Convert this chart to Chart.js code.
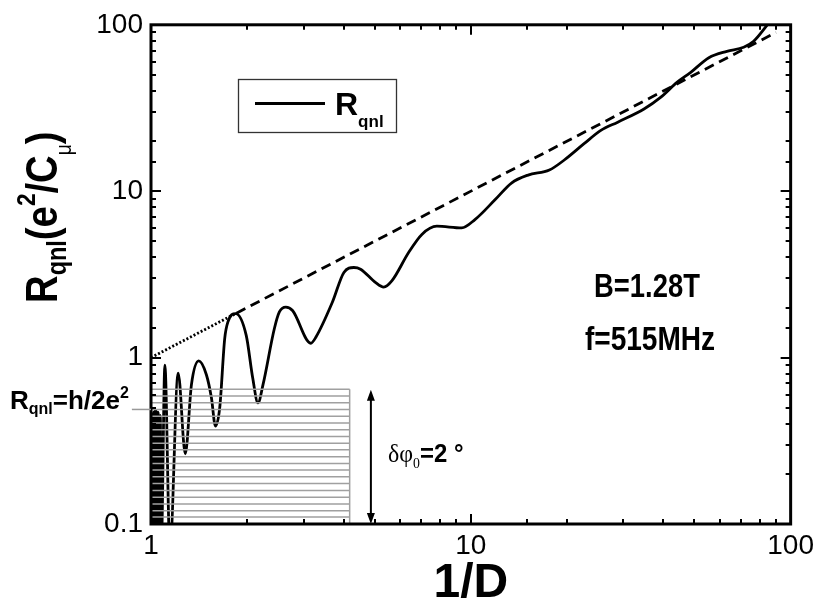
<!DOCTYPE html>
<html>
<head>
<meta charset="utf-8">
<script src="https://cdn.jsdelivr.net/npm/chart.js@4.4.1/dist/chart.umd.min.js"></script>
<style>
  body { margin: 0; background: #fff; overflow: hidden; }
  canvas { display: block; }
</style>
</head>
<body>
<canvas id="c" width="819" height="607"></canvas>
<script>
// R_qnl vs 1/D
var invD = [1.001,1.005,1.009,1.013,1.017,1.022,1.027,1.033,1.039,1.046,1.053,1.061,1.069,1.078,
  1.105,1.146,1.216,1.28,1.338,1.41,1.49,1.545,1.59,1.64,1.70,1.74,1.84,1.985,2.08,2.16,2.24,
  2.43,2.52,2.64,2.77,3.16,3.28,3.69,4.01,4.31,4.52,5.03,5.34,5.67,6.39,7.03,7.83,9.36,10.3,
  11.9,13.4,15.1,17.6,19.6,22.6,25.5,28.8,34.8,39.2,44.2,48.6,55.5,63.2,71.3,76.6,85.3];
var rqnl = [0.40,0.08,0.45,0.08,0.47,0.08,0.48,0.08,0.48,0.08,0.47,0.08,0.45,0.08,
  0.90,0.07,0.807,0.264,0.688,0.955,0.789,0.573,0.388,0.499,1.30,1.64,1.84,1.36,0.753,0.535,0.688,
  1.49,1.88,2.01,1.92,1.22,1.33,2.15,3.25,3.48,3.40,2.83,2.65,2.90,4.28,5.50,6.16,6.02,6.75,
  8.88,11.2,12.5,13.4,15.4,19.3,23.2,26.0,31.2,36.6,45.2,51.6,63.4,69.3,73.3,79.6,102];

// dashed guide line (R ~ 1/D)
var refX = [1, 1.85, 90];
var refY = [1, 1.85, 90];

// grey hatched box
var boxX = [1, 4.18];
var rungY = [0.645,0.588,0.535,0.488,0.444,0.405,0.369,0.336,0.306,0.279,0.254,
  0.231,0.211,0.192,0.175,0.159,0.145,0.132,0.120,0.110,0.100];
var hLevel = 0.488;   // R_qnl = h/2e^2
var arrowX = 4.87;
var arrowY = [0.64, 0.1];

var xTickLabels = [1, 10, 100];
var yTickLabels = [0.1, 1, 10, 100];

var SANS = '"Liberation Sans", Arial, sans-serif';
var SERIF = '"Liberation Serif", "Times New Roman", serif';

function pts(xs, ys) {
  return xs.map(function (v, i) { return { x: v, y: ys[i] }; });
}

var rungData = [];
rungY.forEach(function (v) {
  rungData.push({ x: boxX[0], y: v }, { x: boxX[1], y: v }, { x: boxX[1], y: null });
});
rungData.push({ x: boxX[1], y: rungY[0] }, { x: boxX[1], y: rungY[rungY.length - 1] });

function labelFor(list) {
  return function (v) {
    for (var i = 0; i < list.length; i++) {
      if (Math.abs(v - list[i]) < list[i] * 1e-6) return String(list[i]);
    }
    return '';
  };
}

function isMajor(v) {
  var l = Math.log10(v);
  return Math.abs(l - Math.round(l)) < 1e-6;
}

// text runs with sub/superscripts, sx squeezes along the text direction
function rich(ctx, runs, x, y, o) {
  var w = 0;
  runs.forEach(function (r) {
    ctx.font = r.f;
    r.w = ctx.measureText(r.t).width * o.sx;
    w += r.w;
  });
  ctx.save();
  ctx.translate(x, y);
  if (o.angle) ctx.rotate(o.angle);
  var cx = o.align === 'center' ? -w / 2 : (o.align === 'right' ? -w : 0);
  runs.forEach(function (r) {
    ctx.font = r.f;
    ctx.save();
    ctx.translate(cx, r.dy || 0);
    ctx.scale(o.sx, 1);
    ctx.fillText(r.t, 0, 0);
    ctx.restore();
    cx += r.w;
  });
  ctx.restore();
  return w;
}

var overlay = {
  id: 'overlay',
  afterDatasetsDraw: function (chart) {
    var ctx = chart.ctx, a = chart.chartArea;
    var xs = chart.scales.x, ys = chart.scales.y;
    ctx.save();
    ctx.strokeStyle = '#000';
    ctx.fillStyle = '#000';
    ctx.textAlign = 'left';
    ctx.textBaseline = 'alphabetic';

    // inward ticks on all four sides
    ctx.lineWidth = 2;
    ctx.beginPath();
    xs.ticks.forEach(function (t) {
      var px = Math.round(xs.getPixelForValue(t.value));
      var len = isMajor(t.value) ? 10 : 5;
      ctx.moveTo(px, a.bottom); ctx.lineTo(px, a.bottom - len);
      ctx.moveTo(px, a.top); ctx.lineTo(px, a.top + len);
    });
    ys.ticks.forEach(function (t) {
      var py = Math.round(ys.getPixelForValue(t.value));
      var len = isMajor(t.value) ? 10 : 5;
      ctx.moveTo(a.left, py); ctx.lineTo(a.left + len, py);
      ctx.moveTo(a.right, py); ctx.lineTo(a.right - len, py);
    });
    ctx.stroke();

    // frame
    ctx.lineWidth = 3;
    ctx.strokeRect(a.left, a.top, a.right - a.left, a.bottom - a.top);

    // double arrow
    var ax = xs.getPixelForValue(arrowX);
    var ay1 = ys.getPixelForValue(arrowY[0]);
    var ay2 = ys.getPixelForValue(arrowY[1]);
    ctx.lineWidth = 2;
    ctx.beginPath();
    ctx.moveTo(ax, ay1 + 8); ctx.lineTo(ax, ay2 - 8);
    ctx.stroke();
    ctx.beginPath();
    ctx.moveTo(ax, ay1); ctx.lineTo(ax - 4, ay1 + 11); ctx.lineTo(ax + 4, ay1 + 11); ctx.closePath();
    ctx.moveTo(ax, ay2); ctx.lineTo(ax - 4, ay2 - 11); ctx.lineTo(ax + 4, ay2 - 11); ctx.closePath();
    ctx.fill();

    // legend
    ctx.lineWidth = 1.3;
    ctx.strokeStyle = '#333';
    ctx.strokeRect(238.5, 79.5, 158, 53);
    ctx.strokeStyle = '#000';
    ctx.lineWidth = 2.8;
    ctx.beginPath();
    ctx.moveTo(255, 103.5); ctx.lineTo(325, 103.5);
    ctx.stroke();
    rich(ctx, [
      { t: 'R', f: 'bold 32px ' + SANS },
      { t: 'qnl', f: 'bold 17px ' + SANS, dy: 11.5 }
    ], 335, 115, { sx: 1 });

    // annotations
    rich(ctx, [{ t: 'B=1.28T', f: 'bold 33px ' + SANS }], 647, 297, { sx: 0.83, align: 'center' });
    rich(ctx, [{ t: 'f=515MHz', f: 'bold 33px ' + SANS }], 650, 350, { sx: 0.85, align: 'center' });
    rich(ctx, [
      { t: '\u03b4\u03c6', f: '26px ' + SERIF },
      { t: '0', f: '15px ' + SERIF, dy: 6 },
      { t: '=2 \u00b0', f: 'bold 26px ' + SANS }
    ], 388, 462, { sx: 0.92 });

    // h/2e^2 label with grey leader
    var hy = ys.getPixelForValue(hLevel);
    var w = rich(ctx, [
      { t: 'R', f: 'bold 26px ' + SANS },
      { t: 'qnl', f: 'bold 16px ' + SANS, dy: 5 },
      { t: '=h/2e', f: 'bold 26px ' + SANS },
      { t: '2', f: 'bold 16px ' + SANS, dy: -11 }
    ], 10, hy, { sx: 1 });
    ctx.strokeStyle = '#999';
    ctx.lineWidth = 1.5;
    ctx.beginPath();
    ctx.moveTo(10 + w + 3, hy); ctx.lineTo(a.left, hy);
    ctx.stroke();

    // axis titles
    rich(ctx, [{ t: '1/D', f: 'bold 48px ' + SANS }], (a.left + a.right) / 2, 597, { sx: 1, align: 'center' });
    rich(ctx, [
      { t: 'R', f: 'bold 44px ' + SANS },
      { t: 'qnl', f: 'bold 27px ' + SANS, dy: 9 },
      { t: '(e', f: 'bold 44px ' + SANS },
      { t: '2', f: 'bold 26px ' + SANS, dy: -22 },
      { t: '/C', f: 'bold 44px ' + SANS },
      { t: '\u03bc', f: '22px ' + SANS, dy: 14 },
      { t: ')', f: 'bold 44px ' + SANS }
    ], 57, 303, { sx: 0.87, angle: -Math.PI / 2 });

    ctx.restore();
  }
};

new Chart(document.getElementById('c'), {
  type: 'line',
  data: {
    datasets: [
      {
        label: 'grid',
        data: rungData,
        borderColor: '#a0a0a0',
        borderWidth: 1.5,
        pointRadius: 0,
        tension: 0,
        spanGaps: false,
        order: 0
      },
      {
        label: 'Rqnl',
        data: pts(invD, rqnl),
        borderColor: '#000',
        borderWidth: 2.8,
        pointRadius: 0,
        cubicInterpolationMode: 'monotone',
        order: 1
      },
      {
        label: 'guide',
        data: pts(refX, refY),
        borderColor: '#000',
        borderWidth: 2.8,
        pointRadius: 0,
        tension: 0,
        segment: {
          borderDash: function (c) { return c.p0DataIndex === 0 ? [2, 2] : [10, 6]; }
        },
        order: 2
      }
    ]
  },
  options: {
    responsive: false,
    animation: false,
    devicePixelRatio: 1,
    layout: { padding: { left: 0, top: 20, right: 25, bottom: 0 } },
    plugins: { legend: { display: false }, tooltip: { enabled: false } },
    scales: {
      x: {
        type: 'logarithmic',
        min: 1,
        max: 100,
        position: 'bottom',
        afterFit: function (s) { s.height = 83; },
        grid: { display: false, drawTicks: false },
        border: { display: false },
        ticks: {
          autoSkip: false,
          maxRotation: 0,
          padding: 5,
          color: '#000',
          font: { family: SANS, size: 28 },
          callback: labelFor(xTickLabels)
        }
      },
      y: {
        type: 'logarithmic',
        min: 0.1,
        max: 100,
        afterFit: function (s) { s.width = 151; },
        grid: { display: false, drawTicks: false },
        border: { display: false },
        ticks: {
          autoSkip: false,
          padding: 8,
          color: '#000',
          font: { family: SANS, size: 28 },
          callback: labelFor(yTickLabels)
        }
      }
    }
  },
  plugins: [overlay]
});
</script>
</body>
</html>
